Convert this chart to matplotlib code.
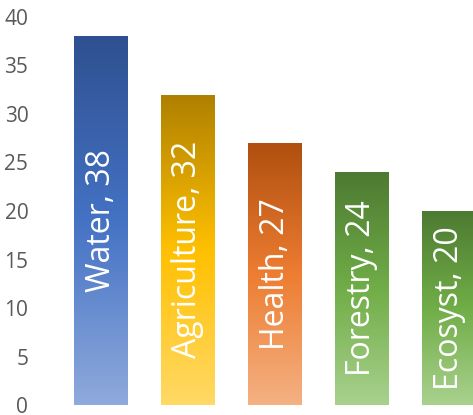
import matplotlib
matplotlib.use("Agg")
import matplotlib.pyplot as plt
import numpy as np
from matplotlib.colors import LinearSegmentedColormap

plt.rcParams['font.family'] = ['Open Sans', 'DejaVu Sans']

# data
categories = ["Water", "Agriculture", "Health", "Forestry", "Ecosyst"]
values = [38, 32, 27, 24, 20]
# gradient stops per bar: bottom (light), middle (base), top (dark)
grad_colors = [
    ["#8FAADC", "#4472C4", "#2F5090"],
    ["#FFD966", "#FFC000", "#AF8000"],
    ["#F4B183", "#ED7D31", "#B04F10"],
    ["#A9D18E", "#70AD47", "#4D7A32"],
    ["#A9D18E", "#70AD47", "#4D7A32"],
]
yticks = [0, 5, 10, 15, 20, 25, 30, 35, 40]

fig = plt.figure(figsize=(4.73, 4.15), dpi=100)
# axes runs past the right edge, like the original which cuts the last bar
ax = fig.add_axes([57.5 / 473, 10 / 415, 435 / 473, 388 / 415])

x = np.arange(len(categories))
width = 0.62
bars = ax.bar(x, values, width=width, color="none", edgecolor="none")

grad = np.linspace(0, 1, 256).reshape(-1, 1)
for bar, cols, cat, val in zip(bars, grad_colors, categories, values):
    cmap = LinearSegmentedColormap.from_list(cat, cols)
    x0, y0 = bar.get_x(), bar.get_y()
    w, h = bar.get_width(), bar.get_height()
    im = ax.imshow(grad, cmap=cmap, aspect="auto", origin="lower",
                   extent=[x0, x0 + w, y0, y0 + h], zorder=2)
    im.set_clip_path(bar)
    ax.text(x0 + w / 2, y0 + h / 2, f"{cat}, {val}", rotation=90,
            ha="center", va="center", color="white", fontsize=23, zorder=3)

ax.set_xlim(-0.5, len(categories) - 0.5)
ax.set_ylim(0, 40)
ax.set_yticks(yticks)
ax.set_xticks([])
ax.tick_params(axis="y", length=0, pad=21, labelsize=15, labelcolor="#595959")
for s in ax.spines.values():
    s.set_visible(False)

fig.savefig("out.png", dpi=100)
